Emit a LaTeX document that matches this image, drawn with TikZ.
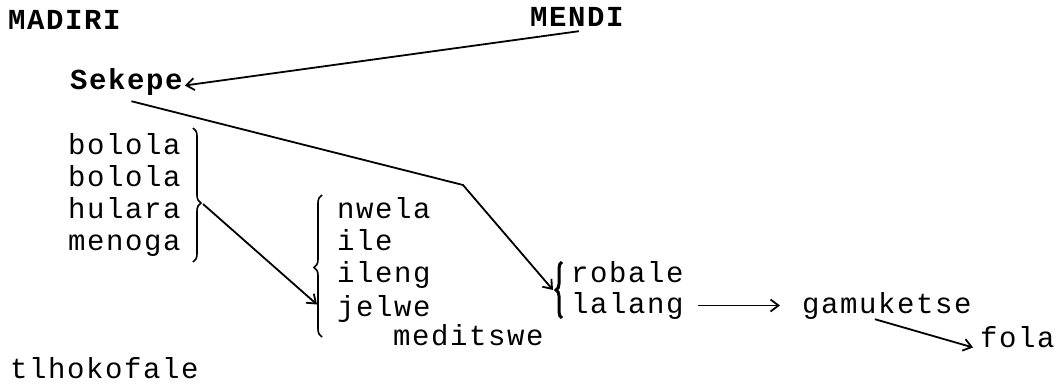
\documentclass[tikz,border=0pt]{standalone}
\usepackage{fontspec}
\setmainfont{Liberation Mono}[LetterSpace=5.5]
\usetikzlibrary{arrows.meta}
\usetikzlibrary{decorations.pathreplacing}

\begin{document}
\begin{tikzpicture}[x=1pt,y=-1pt,
	word/.style={anchor=base west, inner sep=0pt, font=\fontsize{29}{32}\selectfont},
	head/.style={word, font=\fontsize{29}{32}\selectfont\bfseries},
	arr/.style={->, >={Straight Barb[length=8pt,width=12pt]}, line width=1.8pt},
	curly/.style={decorate, decoration={brace, amplitude=8pt, #1}, line width=1.6pt}]
\useasboundingbox (0,0) rectangle (1055,385);

\node[head] (madiri) at (8,30) {MADIRI};
\node[head] (mendi) at (530,27) {MENDI};
\node[head] (sekepe) at (70,90) {Sekepe};

\foreach \w [count=\i] in {bolola,bolola,hulara,menoga}
	\node[word] (bol\i) at (68,{155+31.7*(\i-1)}) {\w};

\node[word] (nwela) at (337,218) {nwela};
\node[word] (ile) at (337,250) {ile};
\node[word] (ileng) at (337,282) {ileng};
\node[word] (jelwe) at (337,316) {jelwe};
\node[word] (meditswe) at (393,345) {meditswe};

\node[word] (robale) at (571,282) {robale};
\node[word] (lalang) at (571,313) {lalang};
\node[word] (gamuketse) at (802,313) {gamuketse};
\node[word] (fola) at (980,347) {fola};
\node[word] (tlhokofale) at (10,378) {tlhokofale};

% braces
\draw[curly={aspect=0.56}] (193,128) -- (193,262);
\draw[curly={aspect=0.49}] (322,337) -- (322,195);
\draw[curly={aspect=0.5, amplitude=6pt}, line width=3pt] (562,318) -- (562,262);
\coordinate (bolTip) at (203,204);
\coordinate (robTip) at (553,290);
\coordinate (bend) at (463,185);

% connectors
\draw[arr] ([xshift=2pt,yshift=-4pt]mendi.south) -- ([xshift=2pt,yshift=-3pt]sekepe.east);
\draw[arr] ([xshift=5pt,yshift=-5pt]sekepe.south) -- (bend) -- (robTip);
\draw[arr] (bolTip) -- ([xshift=-20pt,yshift=4pt]jelwe.west);
\draw[arr] ([xshift=14pt]lalang.east) -- ([xshift=-22pt]gamuketse.west);
\draw[arr] ([xshift=-12pt]gamuketse.south) -- ([xshift=-7pt]fola.south west);

\end{tikzpicture}
\end{document}
